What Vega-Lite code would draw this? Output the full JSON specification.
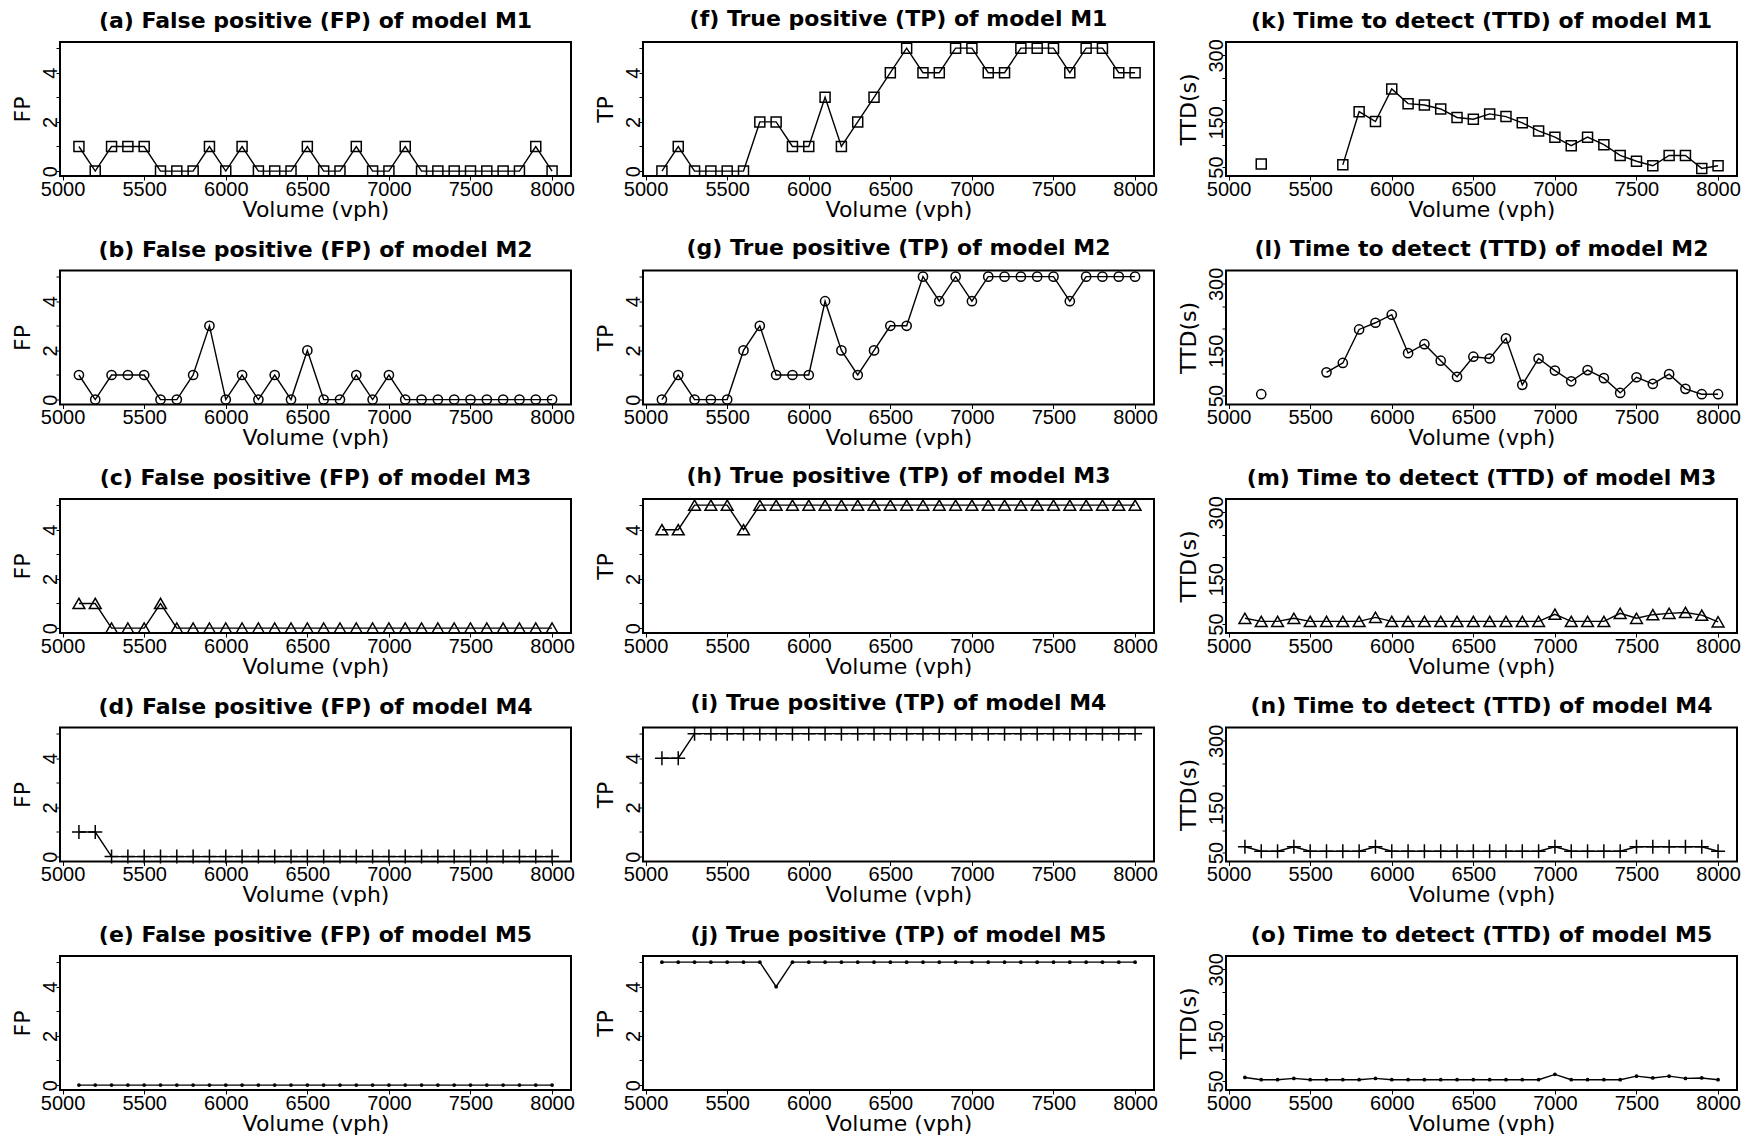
{
  "$schema": "https://vega.github.io/schema/vega-lite/v6.json",
  "background": "white",
  "padding": {"left": 10, "top": 7, "right": 0, "bottom": 0},
  "config": {
    "font": "Liberation Sans",
    "view": {"stroke": "black", "strokeWidth": 2, "continuousWidth": 511, "continuousHeight": 134},
    "axis": {"domain": false, "grid": false, "tickSize": 4, "tickColor": "black", "tickWidth": 1, "labelFont": "Liberation Sans", "labelFontSize": 20, "labelColor": "black", "titleFont": "DejaVu Sans", "titleFontSize": 22, "titleFontWeight": "normal", "titleColor": "black", "labelOverlap": false, "labelFlush": false},
    "axisX": {"labelPadding": -1, "titlePadding": 0, "format": "d"},
    "axisY": {"labelAngle": 270, "labelAlign": "center", "labelBaseline": "alphabetic", "labelPadding": 0, "titlePadding": 6},
    "title": {"font": "DejaVu Sans", "fontSize": 22, "fontWeight": "bold", "color": "black", "baseline": "alphabetic", "offset": 9, "anchor": "middle"},
    "line": {"color": "black", "strokeWidth": 1.4, "invalid": "break-paths-show-domains"},
    "point": {"color": "black", "opacity": 1, "strokeWidth": 1.5, "invalid": "filter"}
  },
  "datasets": {
    "fp_m1": [{"volume":5100,"value":1},{"volume":5200,"value":0},{"volume":5300,"value":1},{"volume":5400,"value":1},{"volume":5500,"value":1},{"volume":5600,"value":0},{"volume":5700,"value":0},{"volume":5800,"value":0},{"volume":5900,"value":1},{"volume":6000,"value":0},{"volume":6100,"value":1},{"volume":6200,"value":0},{"volume":6300,"value":0},{"volume":6400,"value":0},{"volume":6500,"value":1},{"volume":6600,"value":0},{"volume":6700,"value":0},{"volume":6800,"value":1},{"volume":6900,"value":0},{"volume":7000,"value":0},{"volume":7100,"value":1},{"volume":7200,"value":0},{"volume":7300,"value":0},{"volume":7400,"value":0},{"volume":7500,"value":0},{"volume":7600,"value":0},{"volume":7700,"value":0},{"volume":7800,"value":0},{"volume":7900,"value":1},{"volume":8000,"value":0}],
    "fp_m2": [{"volume":5100,"value":1},{"volume":5200,"value":0},{"volume":5300,"value":1},{"volume":5400,"value":1},{"volume":5500,"value":1},{"volume":5600,"value":0},{"volume":5700,"value":0},{"volume":5800,"value":1},{"volume":5900,"value":3},{"volume":6000,"value":0},{"volume":6100,"value":1},{"volume":6200,"value":0},{"volume":6300,"value":1},{"volume":6400,"value":0},{"volume":6500,"value":2},{"volume":6600,"value":0},{"volume":6700,"value":0},{"volume":6800,"value":1},{"volume":6900,"value":0},{"volume":7000,"value":1},{"volume":7100,"value":0},{"volume":7200,"value":0},{"volume":7300,"value":0},{"volume":7400,"value":0},{"volume":7500,"value":0},{"volume":7600,"value":0},{"volume":7700,"value":0},{"volume":7800,"value":0},{"volume":7900,"value":0},{"volume":8000,"value":0}],
    "fp_m3": [{"volume":5100,"value":1},{"volume":5200,"value":1},{"volume":5300,"value":0},{"volume":5400,"value":0},{"volume":5500,"value":0},{"volume":5600,"value":1},{"volume":5700,"value":0},{"volume":5800,"value":0},{"volume":5900,"value":0},{"volume":6000,"value":0},{"volume":6100,"value":0},{"volume":6200,"value":0},{"volume":6300,"value":0},{"volume":6400,"value":0},{"volume":6500,"value":0},{"volume":6600,"value":0},{"volume":6700,"value":0},{"volume":6800,"value":0},{"volume":6900,"value":0},{"volume":7000,"value":0},{"volume":7100,"value":0},{"volume":7200,"value":0},{"volume":7300,"value":0},{"volume":7400,"value":0},{"volume":7500,"value":0},{"volume":7600,"value":0},{"volume":7700,"value":0},{"volume":7800,"value":0},{"volume":7900,"value":0},{"volume":8000,"value":0}],
    "fp_m4": [{"volume":5100,"value":1},{"volume":5200,"value":1},{"volume":5300,"value":0},{"volume":5400,"value":0},{"volume":5500,"value":0},{"volume":5600,"value":0},{"volume":5700,"value":0},{"volume":5800,"value":0},{"volume":5900,"value":0},{"volume":6000,"value":0},{"volume":6100,"value":0},{"volume":6200,"value":0},{"volume":6300,"value":0},{"volume":6400,"value":0},{"volume":6500,"value":0},{"volume":6600,"value":0},{"volume":6700,"value":0},{"volume":6800,"value":0},{"volume":6900,"value":0},{"volume":7000,"value":0},{"volume":7100,"value":0},{"volume":7200,"value":0},{"volume":7300,"value":0},{"volume":7400,"value":0},{"volume":7500,"value":0},{"volume":7600,"value":0},{"volume":7700,"value":0},{"volume":7800,"value":0},{"volume":7900,"value":0},{"volume":8000,"value":0}],
    "fp_m5": [{"volume":5100,"value":0},{"volume":5200,"value":0},{"volume":5300,"value":0},{"volume":5400,"value":0},{"volume":5500,"value":0},{"volume":5600,"value":0},{"volume":5700,"value":0},{"volume":5800,"value":0},{"volume":5900,"value":0},{"volume":6000,"value":0},{"volume":6100,"value":0},{"volume":6200,"value":0},{"volume":6300,"value":0},{"volume":6400,"value":0},{"volume":6500,"value":0},{"volume":6600,"value":0},{"volume":6700,"value":0},{"volume":6800,"value":0},{"volume":6900,"value":0},{"volume":7000,"value":0},{"volume":7100,"value":0},{"volume":7200,"value":0},{"volume":7300,"value":0},{"volume":7400,"value":0},{"volume":7500,"value":0},{"volume":7600,"value":0},{"volume":7700,"value":0},{"volume":7800,"value":0},{"volume":7900,"value":0},{"volume":8000,"value":0}],
    "tp_m1": [{"volume":5100,"value":0},{"volume":5200,"value":1},{"volume":5300,"value":0},{"volume":5400,"value":0},{"volume":5500,"value":0},{"volume":5600,"value":0},{"volume":5700,"value":2},{"volume":5800,"value":2},{"volume":5900,"value":1},{"volume":6000,"value":1},{"volume":6100,"value":3},{"volume":6200,"value":1},{"volume":6300,"value":2},{"volume":6400,"value":3},{"volume":6500,"value":4},{"volume":6600,"value":5},{"volume":6700,"value":4},{"volume":6800,"value":4},{"volume":6900,"value":5},{"volume":7000,"value":5},{"volume":7100,"value":4},{"volume":7200,"value":4},{"volume":7300,"value":5},{"volume":7400,"value":5},{"volume":7500,"value":5},{"volume":7600,"value":4},{"volume":7700,"value":5},{"volume":7800,"value":5},{"volume":7900,"value":4},{"volume":8000,"value":4}],
    "tp_m2": [{"volume":5100,"value":0},{"volume":5200,"value":1},{"volume":5300,"value":0},{"volume":5400,"value":0},{"volume":5500,"value":0},{"volume":5600,"value":2},{"volume":5700,"value":3},{"volume":5800,"value":1},{"volume":5900,"value":1},{"volume":6000,"value":1},{"volume":6100,"value":4},{"volume":6200,"value":2},{"volume":6300,"value":1},{"volume":6400,"value":2},{"volume":6500,"value":3},{"volume":6600,"value":3},{"volume":6700,"value":5},{"volume":6800,"value":4},{"volume":6900,"value":5},{"volume":7000,"value":4},{"volume":7100,"value":5},{"volume":7200,"value":5},{"volume":7300,"value":5},{"volume":7400,"value":5},{"volume":7500,"value":5},{"volume":7600,"value":4},{"volume":7700,"value":5},{"volume":7800,"value":5},{"volume":7900,"value":5},{"volume":8000,"value":5}],
    "tp_m3": [{"volume":5100,"value":4},{"volume":5200,"value":4},{"volume":5300,"value":5},{"volume":5400,"value":5},{"volume":5500,"value":5},{"volume":5600,"value":4},{"volume":5700,"value":5},{"volume":5800,"value":5},{"volume":5900,"value":5},{"volume":6000,"value":5},{"volume":6100,"value":5},{"volume":6200,"value":5},{"volume":6300,"value":5},{"volume":6400,"value":5},{"volume":6500,"value":5},{"volume":6600,"value":5},{"volume":6700,"value":5},{"volume":6800,"value":5},{"volume":6900,"value":5},{"volume":7000,"value":5},{"volume":7100,"value":5},{"volume":7200,"value":5},{"volume":7300,"value":5},{"volume":7400,"value":5},{"volume":7500,"value":5},{"volume":7600,"value":5},{"volume":7700,"value":5},{"volume":7800,"value":5},{"volume":7900,"value":5},{"volume":8000,"value":5}],
    "tp_m4": [{"volume":5100,"value":4},{"volume":5200,"value":4},{"volume":5300,"value":5},{"volume":5400,"value":5},{"volume":5500,"value":5},{"volume":5600,"value":5},{"volume":5700,"value":5},{"volume":5800,"value":5},{"volume":5900,"value":5},{"volume":6000,"value":5},{"volume":6100,"value":5},{"volume":6200,"value":5},{"volume":6300,"value":5},{"volume":6400,"value":5},{"volume":6500,"value":5},{"volume":6600,"value":5},{"volume":6700,"value":5},{"volume":6800,"value":5},{"volume":6900,"value":5},{"volume":7000,"value":5},{"volume":7100,"value":5},{"volume":7200,"value":5},{"volume":7300,"value":5},{"volume":7400,"value":5},{"volume":7500,"value":5},{"volume":7600,"value":5},{"volume":7700,"value":5},{"volume":7800,"value":5},{"volume":7900,"value":5},{"volume":8000,"value":5}],
    "tp_m5": [{"volume":5100,"value":5},{"volume":5200,"value":5},{"volume":5300,"value":5},{"volume":5400,"value":5},{"volume":5500,"value":5},{"volume":5600,"value":5},{"volume":5700,"value":5},{"volume":5800,"value":4},{"volume":5900,"value":5},{"volume":6000,"value":5},{"volume":6100,"value":5},{"volume":6200,"value":5},{"volume":6300,"value":5},{"volume":6400,"value":5},{"volume":6500,"value":5},{"volume":6600,"value":5},{"volume":6700,"value":5},{"volume":6800,"value":5},{"volume":6900,"value":5},{"volume":7000,"value":5},{"volume":7100,"value":5},{"volume":7200,"value":5},{"volume":7300,"value":5},{"volume":7400,"value":5},{"volume":7500,"value":5},{"volume":7600,"value":5},{"volume":7700,"value":5},{"volume":7800,"value":5},{"volume":7900,"value":5},{"volume":8000,"value":5}],
    "ttd_m1": [{"volume":5100,"value":null},{"volume":5200,"value":57},{"volume":5300,"value":null},{"volume":5400,"value":null},{"volume":5500,"value":null},{"volume":5600,"value":null},{"volume":5700,"value":55},{"volume":5800,"value":174},{"volume":5900,"value":152},{"volume":6000,"value":225},{"volume":6100,"value":192},{"volume":6200,"value":189},{"volume":6300,"value":180},{"volume":6400,"value":161},{"volume":6500,"value":157},{"volume":6600,"value":169},{"volume":6700,"value":163},{"volume":6800,"value":149},{"volume":6900,"value":131},{"volume":7000,"value":117},{"volume":7100,"value":98},{"volume":7200,"value":117},{"volume":7300,"value":100},{"volume":7400,"value":76},{"volume":7500,"value":63},{"volume":7600,"value":53},{"volume":7700,"value":76},{"volume":7800,"value":76},{"volume":7900,"value":47},{"volume":8000,"value":53}],
    "ttd_m2": [{"volume":5100,"value":null},{"volume":5200,"value":53},{"volume":5300,"value":null},{"volume":5400,"value":null},{"volume":5500,"value":null},{"volume":5600,"value":102},{"volume":5700,"value":123},{"volume":5800,"value":198},{"volume":5900,"value":213},{"volume":6000,"value":231},{"volume":6100,"value":145},{"volume":6200,"value":165},{"volume":6300,"value":128},{"volume":6400,"value":92},{"volume":6500,"value":137},{"volume":6600,"value":133},{"volume":6700,"value":178},{"volume":6800,"value":74},{"volume":6900,"value":133},{"volume":7000,"value":106},{"volume":7100,"value":82},{"volume":7200,"value":107},{"volume":7300,"value":89},{"volume":7400,"value":56},{"volume":7500,"value":91},{"volume":7600,"value":76},{"volume":7700,"value":98},{"volume":7800,"value":65},{"volume":7900,"value":53},{"volume":8000,"value":53}],
    "ttd_m3": [{"volume":5100,"value":63},{"volume":5200,"value":56},{"volume":5300,"value":56},{"volume":5400,"value":63},{"volume":5500,"value":56},{"volume":5600,"value":56},{"volume":5700,"value":56},{"volume":5800,"value":56},{"volume":5900,"value":65},{"volume":6000,"value":56},{"volume":6100,"value":56},{"volume":6200,"value":56},{"volume":6300,"value":56},{"volume":6400,"value":56},{"volume":6500,"value":56},{"volume":6600,"value":56},{"volume":6700,"value":56},{"volume":6800,"value":56},{"volume":6900,"value":56},{"volume":7000,"value":72},{"volume":7100,"value":56},{"volume":7200,"value":56},{"volume":7300,"value":56},{"volume":7400,"value":74},{"volume":7500,"value":63},{"volume":7600,"value":71},{"volume":7700,"value":74},{"volume":7800,"value":76},{"volume":7900,"value":70},{"volume":8000,"value":55}],
    "ttd_m4": [{"volume":5100,"value":63},{"volume":5200,"value":53},{"volume":5300,"value":53},{"volume":5400,"value":63},{"volume":5500,"value":53},{"volume":5600,"value":53},{"volume":5700,"value":53},{"volume":5800,"value":53},{"volume":5900,"value":63},{"volume":6000,"value":53},{"volume":6100,"value":53},{"volume":6200,"value":53},{"volume":6300,"value":53},{"volume":6400,"value":53},{"volume":6500,"value":53},{"volume":6600,"value":53},{"volume":6700,"value":53},{"volume":6800,"value":53},{"volume":6900,"value":53},{"volume":7000,"value":63},{"volume":7100,"value":53},{"volume":7200,"value":53},{"volume":7300,"value":53},{"volume":7400,"value":53},{"volume":7500,"value":63},{"volume":7600,"value":63},{"volume":7700,"value":63},{"volume":7800,"value":63},{"volume":7900,"value":63},{"volume":8000,"value":53}],
    "ttd_m5": [{"volume":5100,"value":58},{"volume":5200,"value":53},{"volume":5300,"value":53},{"volume":5400,"value":56},{"volume":5500,"value":53},{"volume":5600,"value":53},{"volume":5700,"value":53},{"volume":5800,"value":53},{"volume":5900,"value":56},{"volume":6000,"value":53},{"volume":6100,"value":53},{"volume":6200,"value":53},{"volume":6300,"value":53},{"volume":6400,"value":53},{"volume":6500,"value":53},{"volume":6600,"value":53},{"volume":6700,"value":53},{"volume":6800,"value":53},{"volume":6900,"value":53},{"volume":7000,"value":65},{"volume":7100,"value":53},{"volume":7200,"value":53},{"volume":7300,"value":53},{"volume":7400,"value":53},{"volume":7500,"value":61},{"volume":7600,"value":57},{"volume":7700,"value":61},{"volume":7800,"value":56},{"volume":7900,"value":57},{"volume":8000,"value":53}]
  },
  "columns": 3,
  "bounds": "flush",
  "spacing": {"row": 94.5, "column": 72},
  "concat": [
    {"title": "(a) False positive (FP) of model M1", "data": {"name": "fp_m1"},
     "encoding": {"x": {"field": "volume", "type": "quantitative", "scale": {"domain": [4984, 8116], "nice": false, "zero": false}, "axis": {"values": [5000, 5500, 6000, 6500, 7000, 7500, 8000], "title": "Volume (vph)"}},
                  "y": {"field": "value", "type": "quantitative", "scale": {"domain": [-0.2, 5.25], "nice": false, "zero": false}, "axis": {"values": [0, 1, 2, 3, 4, 5], "labelExpr": "datum.value % 2 == 0 ? datum.label : ''", "title": "FP"}}},
     "layer": [{"mark": "line", "encoding": {}}, {"mark": {"type": "point", "shape": "square", "size": 100, "filled": false}}]},
    {"title": "(f) True positive (TP) of model M1", "data": {"name": "tp_m1"},
     "encoding": {"x": {"field": "volume", "type": "quantitative", "scale": {"domain": [4984, 8116], "nice": false, "zero": false}, "axis": {"values": [5000, 5500, 6000, 6500, 7000, 7500, 8000], "title": "Volume (vph)"}},
                  "y": {"field": "value", "type": "quantitative", "scale": {"domain": [-0.2, 5.25], "nice": false, "zero": false}, "axis": {"values": [0, 1, 2, 3, 4, 5], "labelExpr": "datum.value % 2 == 0 ? datum.label : ''", "title": "TP"}}},
     "layer": [{"mark": "line", "encoding": {}}, {"mark": {"type": "point", "shape": "square", "size": 100, "filled": false}}]},
    {"title": {"text": "(k) Time to detect (TTD) of model M1", "offset": 6}, "data": {"name": "ttd_m1"},
     "encoding": {"x": {"field": "volume", "type": "quantitative", "scale": {"domain": [4984, 8116], "nice": false, "zero": false}, "axis": {"values": [5000, 5500, 6000, 6500, 7000, 7500, 8000], "title": "Volume (vph)"}},
                  "y": {"field": "value", "type": "quantitative", "scale": {"domain": [30, 330], "nice": false, "zero": false}, "axis": {"values": [50, 100, 150, 200, 250, 300], "labelExpr": "datum.value == 50 || datum.value == 150 || datum.value == 300 ? datum.label : ''", "title": "TTD(s)"}}},
     "layer": [{"mark": "line", "encoding": {}}, {"mark": {"type": "point", "shape": "square", "size": 100, "filled": false}}]},

    {"title": "(b) False positive (FP) of model M2", "data": {"name": "fp_m2"},
     "encoding": {"x": {"field": "volume", "type": "quantitative", "scale": {"domain": [4984, 8116], "nice": false, "zero": false}, "axis": {"values": [5000, 5500, 6000, 6500, 7000, 7500, 8000], "title": "Volume (vph)"}},
                  "y": {"field": "value", "type": "quantitative", "scale": {"domain": [-0.2, 5.25], "nice": false, "zero": false}, "axis": {"values": [0, 1, 2, 3, 4, 5], "labelExpr": "datum.value % 2 == 0 ? datum.label : ''", "title": "FP"}}},
     "layer": [{"mark": "line", "encoding": {}}, {"mark": {"type": "point", "shape": "circle", "size": 85, "filled": false}}]},
    {"title": "(g) True positive (TP) of model M2", "data": {"name": "tp_m2"},
     "encoding": {"x": {"field": "volume", "type": "quantitative", "scale": {"domain": [4984, 8116], "nice": false, "zero": false}, "axis": {"values": [5000, 5500, 6000, 6500, 7000, 7500, 8000], "title": "Volume (vph)"}},
                  "y": {"field": "value", "type": "quantitative", "scale": {"domain": [-0.2, 5.25], "nice": false, "zero": false}, "axis": {"values": [0, 1, 2, 3, 4, 5], "labelExpr": "datum.value % 2 == 0 ? datum.label : ''", "title": "TP"}}},
     "layer": [{"mark": "line", "encoding": {}}, {"mark": {"type": "point", "shape": "circle", "size": 85, "filled": false}}]},
    {"title": {"text": "(l) Time to detect (TTD) of model M2", "offset": 6}, "data": {"name": "ttd_m2"},
     "encoding": {"x": {"field": "volume", "type": "quantitative", "scale": {"domain": [4984, 8116], "nice": false, "zero": false}, "axis": {"values": [5000, 5500, 6000, 6500, 7000, 7500, 8000], "title": "Volume (vph)"}},
                  "y": {"field": "value", "type": "quantitative", "scale": {"domain": [30, 330], "nice": false, "zero": false}, "axis": {"values": [50, 100, 150, 200, 250, 300], "labelExpr": "datum.value == 50 || datum.value == 150 || datum.value == 300 ? datum.label : ''", "title": "TTD(s)"}}},
     "layer": [{"mark": "line", "encoding": {}}, {"mark": {"type": "point", "shape": "circle", "size": 85, "filled": false}}]},

    {"title": "(c) False positive (FP) of model M3", "data": {"name": "fp_m3"},
     "encoding": {"x": {"field": "volume", "type": "quantitative", "scale": {"domain": [4984, 8116], "nice": false, "zero": false}, "axis": {"values": [5000, 5500, 6000, 6500, 7000, 7500, 8000], "title": "Volume (vph)"}},
                  "y": {"field": "value", "type": "quantitative", "scale": {"domain": [-0.2, 5.25], "nice": false, "zero": false}, "axis": {"values": [0, 1, 2, 3, 4, 5], "labelExpr": "datum.value % 2 == 0 ? datum.label : ''", "title": "FP"}}},
     "layer": [{"mark": "line", "encoding": {}}, {"mark": {"type": "point", "shape": "triangle-up", "size": 140, "filled": false}}]},
    {"title": "(h) True positive (TP) of model M3", "data": {"name": "tp_m3"},
     "encoding": {"x": {"field": "volume", "type": "quantitative", "scale": {"domain": [4984, 8116], "nice": false, "zero": false}, "axis": {"values": [5000, 5500, 6000, 6500, 7000, 7500, 8000], "title": "Volume (vph)"}},
                  "y": {"field": "value", "type": "quantitative", "scale": {"domain": [-0.2, 5.25], "nice": false, "zero": false}, "axis": {"values": [0, 1, 2, 3, 4, 5], "labelExpr": "datum.value % 2 == 0 ? datum.label : ''", "title": "TP"}}},
     "layer": [{"mark": "line", "encoding": {}}, {"mark": {"type": "point", "shape": "triangle-up", "size": 140, "filled": false}}]},
    {"title": {"text": "(m) Time to detect (TTD) of model M3", "offset": 6}, "data": {"name": "ttd_m3"},
     "encoding": {"x": {"field": "volume", "type": "quantitative", "scale": {"domain": [4984, 8116], "nice": false, "zero": false}, "axis": {"values": [5000, 5500, 6000, 6500, 7000, 7500, 8000], "title": "Volume (vph)"}},
                  "y": {"field": "value", "type": "quantitative", "scale": {"domain": [30, 330], "nice": false, "zero": false}, "axis": {"values": [50, 100, 150, 200, 250, 300], "labelExpr": "datum.value == 50 || datum.value == 150 || datum.value == 300 ? datum.label : ''", "title": "TTD(s)"}}},
     "layer": [{"mark": "line", "encoding": {}}, {"mark": {"type": "point", "shape": "triangle-up", "size": 140, "filled": false}}]},

    {"title": "(d) False positive (FP) of model M4", "data": {"name": "fp_m4"},
     "encoding": {"x": {"field": "volume", "type": "quantitative", "scale": {"domain": [4984, 8116], "nice": false, "zero": false}, "axis": {"values": [5000, 5500, 6000, 6500, 7000, 7500, 8000], "title": "Volume (vph)"}},
                  "y": {"field": "value", "type": "quantitative", "scale": {"domain": [-0.2, 5.25], "nice": false, "zero": false}, "axis": {"values": [0, 1, 2, 3, 4, 5], "labelExpr": "datum.value % 2 == 0 ? datum.label : ''", "title": "FP"}}},
     "layer": [{"mark": "line", "encoding": {}}, {"mark": {"type": "point", "shape": "M-1,0L1,0M0,-1L0,1", "size": 196, "filled": false}}]},
    {"title": "(i) True positive (TP) of model M4", "data": {"name": "tp_m4"},
     "encoding": {"x": {"field": "volume", "type": "quantitative", "scale": {"domain": [4984, 8116], "nice": false, "zero": false}, "axis": {"values": [5000, 5500, 6000, 6500, 7000, 7500, 8000], "title": "Volume (vph)"}},
                  "y": {"field": "value", "type": "quantitative", "scale": {"domain": [-0.2, 5.25], "nice": false, "zero": false}, "axis": {"values": [0, 1, 2, 3, 4, 5], "labelExpr": "datum.value % 2 == 0 ? datum.label : ''", "title": "TP"}}},
     "layer": [{"mark": "line", "encoding": {}}, {"mark": {"type": "point", "shape": "M-1,0L1,0M0,-1L0,1", "size": 196, "filled": false}}]},
    {"title": {"text": "(n) Time to detect (TTD) of model M4", "offset": 6}, "data": {"name": "ttd_m4"},
     "encoding": {"x": {"field": "volume", "type": "quantitative", "scale": {"domain": [4984, 8116], "nice": false, "zero": false}, "axis": {"values": [5000, 5500, 6000, 6500, 7000, 7500, 8000], "title": "Volume (vph)"}},
                  "y": {"field": "value", "type": "quantitative", "scale": {"domain": [30, 330], "nice": false, "zero": false}, "axis": {"values": [50, 100, 150, 200, 250, 300], "labelExpr": "datum.value == 50 || datum.value == 150 || datum.value == 300 ? datum.label : ''", "title": "TTD(s)"}}},
     "layer": [{"mark": "line", "encoding": {}}, {"mark": {"type": "point", "shape": "M-1,0L1,0M0,-1L0,1", "size": 196, "filled": false}}]},

    {"title": "(e) False positive (FP) of model M5", "data": {"name": "fp_m5"},
     "encoding": {"x": {"field": "volume", "type": "quantitative", "scale": {"domain": [4984, 8116], "nice": false, "zero": false}, "axis": {"values": [5000, 5500, 6000, 6500, 7000, 7500, 8000], "title": "Volume (vph)"}},
                  "y": {"field": "value", "type": "quantitative", "scale": {"domain": [-0.2, 5.25], "nice": false, "zero": false}, "axis": {"values": [0, 1, 2, 3, 4, 5], "labelExpr": "datum.value % 2 == 0 ? datum.label : ''", "title": "FP"}}},
     "layer": [{"mark": "line", "encoding": {}}, {"mark": {"type": "point", "shape": "circle", "size": 14, "filled": true}}]},
    {"title": "(j) True positive (TP) of model M5", "data": {"name": "tp_m5"},
     "encoding": {"x": {"field": "volume", "type": "quantitative", "scale": {"domain": [4984, 8116], "nice": false, "zero": false}, "axis": {"values": [5000, 5500, 6000, 6500, 7000, 7500, 8000], "title": "Volume (vph)"}},
                  "y": {"field": "value", "type": "quantitative", "scale": {"domain": [-0.2, 5.25], "nice": false, "zero": false}, "axis": {"values": [0, 1, 2, 3, 4, 5], "labelExpr": "datum.value % 2 == 0 ? datum.label : ''", "title": "TP"}}},
     "layer": [{"mark": "line", "encoding": {}}, {"mark": {"type": "point", "shape": "circle", "size": 14, "filled": true}}]},
    {"title": {"text": "(o) Time to detect (TTD) of model M5", "offset": 6}, "data": {"name": "ttd_m5"},
     "encoding": {"x": {"field": "volume", "type": "quantitative", "scale": {"domain": [4984, 8116], "nice": false, "zero": false}, "axis": {"values": [5000, 5500, 6000, 6500, 7000, 7500, 8000], "title": "Volume (vph)"}},
                  "y": {"field": "value", "type": "quantitative", "scale": {"domain": [30, 330], "nice": false, "zero": false}, "axis": {"values": [50, 100, 150, 200, 250, 300], "labelExpr": "datum.value == 50 || datum.value == 150 || datum.value == 300 ? datum.label : ''", "title": "TTD(s)"}}},
     "layer": [{"mark": "line", "encoding": {}}, {"mark": {"type": "point", "shape": "circle", "size": 14, "filled": true}}]}
  ]
}
